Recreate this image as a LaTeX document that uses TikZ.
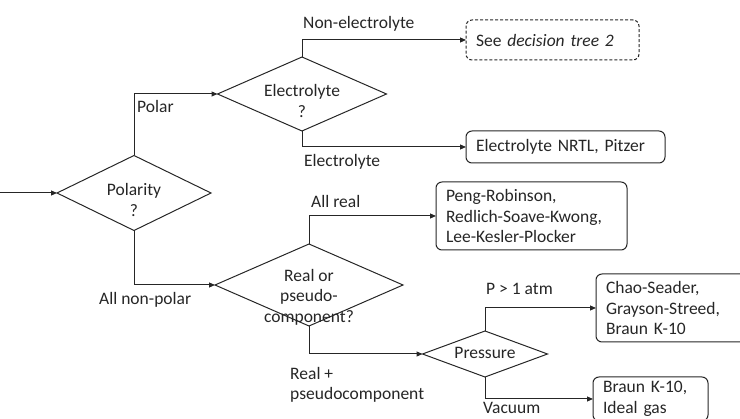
\documentclass[tikz,border=0pt]{standalone}
\usepackage{fontspec}
\setmainfont{Carlito}
\usepackage{tikz}
\usetikzlibrary{arrows.meta,shapes.geometric}

\begin{document}
\begin{tikzpicture}[
  x=1pt,y=-1pt,
  every node/.style={font=\fontsize{17.5}{20.5}\selectfont,text=black!85},
  decision/.style={diamond,draw=black!85,line width=1pt,inner sep=0pt,outer sep=0pt},
  dtext/.style={align=center,inner sep=0pt},
  method/.style={draw=black!85,line width=1pt,rounded corners=6pt,align=left,
                 inner xsep=10pt,inner ysep=0pt,outer sep=0pt,anchor=north west},
  seebox/.style={method,dash pattern=on 3pt off 2pt},
  elabel/.style={inner sep=0pt,anchor=west,align=left},
  flow/.style={draw=black!85,line width=1pt,-{Triangle[length=6pt,width=5pt]}},
]

\path[use as bounding box,clip] (0,0) rectangle (740,419);

%% Decisions
\node[decision,minimum width=154pt,minimum height=75pt] (pol)   at (134,193) {};
\node[decision,minimum width=169pt,minimum height=74pt] (elec)  at (302,94)  {};
\node[decision,minimum width=188pt,minimum height=82pt] (kind)  at (309,285) {};
\node[decision,minimum width=125pt,minimum height=46pt] (press) at (485,354) {};

\node[dtext] (poltext)   at (134,200) {Polarity\\?};
\node[dtext] (electext)  at (302,101) {Electrolyte\\?};
\node[dtext] (kindtext)  at (309,297) {Real or\\pseudo-\\component?};
\node[dtext] (presstext) at (485,353) {Pressure};

%% Property methods
\node[seebox,text width=153pt,minimum height=40pt] (see)   at (466,20)
  {See \textit{decision tree 2}};
\node[method,text width=179pt,minimum height=32pt] (nrtl)  at (466,131)
  {Electrolyte NRTL, Pitzer};
\node[method,text width=171pt,minimum height=68pt] (eos)   at (436,182)
  {Peng-Robinson,\\Redlich-Soave-Kwong,\\Lee-Kesler-Plocker};
\node[method,text width=180pt,minimum height=68pt] (chao)  at (596,274)
  {Chao-Seader,\\Grayson-Streed,\\Braun K-10};
\node[method,text width=95pt,minimum height=44pt]  (braun) at (593,377)
  {Braun K-10,\\Ideal gas};

%% Connectors
\coordinate (in) at (0,193);
\draw[flow] (in) -- (pol.west);
\draw[flow] (pol.north)   |- (elec.west);
\draw[flow] (elec.north)  |- (see.west);
\draw[flow] (elec.south)  |- (nrtl.west);
\draw[flow] (pol.south)   |- (kind.west);
\draw[flow] (kind.north)  |- (eos.west);
\draw[flow] (kind.south)  |- (press.west);
\draw[flow] (press.north) |- (chao.west);
\draw[flow] (press.south) |- (braun.west);

%% Branch labels
\node[elabel] (lpolar)  at (137,106) {Polar};
\node[elabel] (lnonel)  at (303,24)  {Non-electrolyte};
\node[elabel] (lelec)   at (304,162) {Electrolyte};
\node[elabel] (lnonpol) at (99,300)  {All non-polar};
\node[elabel] (lreal)   at (311,201) {All real};
\node[elabel] (lpseudo) at (290,385) {Real +\\pseudocomponent};
\node[elabel] (lhigh)   at (486,289) {P > 1 atm};
\node[elabel] (lvac)    at (483,408) {Vacuum};

\end{tikzpicture}
\end{document}
